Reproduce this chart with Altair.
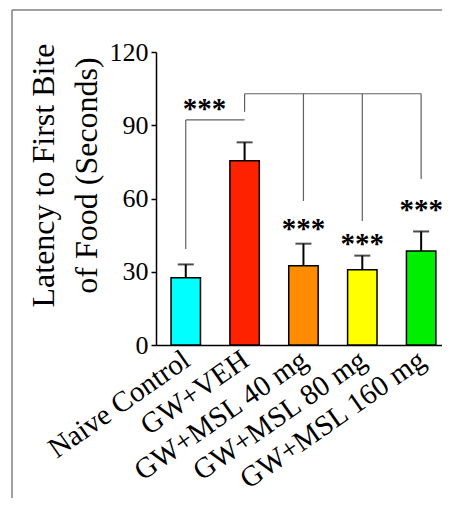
import altair as alt
import pandas as pd

groups = ["Naive Control", "GW+VEH", "GW+MSL 40 mg", "GW+MSL 80 mg", "GW+MSL 160 mg"]
means = [27.5, 75.5, 32.5, 30.8, 38.5]
sems = [5.5, 7.5, 9.0, 5.8, 8.0]
colors = ["#00FFFF", "#FF2200", "#FF8C00", "#FFFF00", "#00EE00"]

# significance brackets
h_from = ["Naive Control", "GW+VEH"]
h_to = ["GW+VEH", "GW+MSL 160 mg"]
h_y = [92.2, 102.9]
leg_group = ["Naive Control", "GW+VEH", "GW+MSL 40 mg", "GW+MSL 80 mg", "GW+MSL 160 mg"]
leg_low = [39.3, 95.5, 59.0, 50.8, 68.0]
leg_high = [92.2, 102.9, 102.9, 102.9, 102.9]
star_group = ["GW+MSL 40 mg", "GW+MSL 80 mg", "GW+MSL 160 mg"]
star_y = [49.2, 43.0, 57.0]
pair_star_group = ["Naive Control"]
pair_star_y = [98.4]

FONT = "Liberation Serif"

bars_df = pd.DataFrame({"group": groups, "mean": means, "sem": sems, "color": colors})
bars_df["top"] = bars_df["mean"] + bars_df["sem"]
h_df = pd.DataFrame({"g1": h_from, "g2": h_to, "y": h_y})
leg_df = pd.DataFrame({"group": leg_group, "lo": leg_low, "hi": leg_high})
star_df = pd.DataFrame({"group": star_group, "y": star_y, "t": ["***"] * len(star_group)})
pstar_df = pd.DataFrame({"group": pair_star_group, "y": pair_star_y, "t": ["***"]})

xscale = alt.Scale(domain=groups, paddingInner=0.5, paddingOuter=0.18, align=0.71)
yscale = alt.Scale(domain=[0, 120])

x = alt.X("group:N", scale=xscale, sort=groups, title=None,
          axis=alt.Axis(labelAngle=-35, labelFont=FONT, labelFontSize=29, labelColor="black",
                        ticks=False, domainColor="black", domainWidth=1.5, labelPadding=0,
                        labelOffset=-7, labelLimit=400))
y = alt.Y("mean:Q", scale=yscale,
          title=["Latency to First Bite", "of Food (Seconds)"],
          axis=alt.Axis(values=[0, 30, 60, 90, 120], grid=False, tickSize=5, tickColor="black",
                        tickWidth=1.5, domainColor="black", domainWidth=1.5,
                        labelFont=FONT, labelFontSize=26, labelColor="black", labelPadding=3,
                        titleFont=FONT, titleFontSize=32, titleFontWeight="normal",
                        titleColor="black", titleLineHeight=43, titleX=-103, titleY=123,
                        titleAngle=-90, titleAlign="center", titleBaseline="alphabetic"))

bars = alt.Chart(bars_df).mark_bar(stroke="black", strokeWidth=1.5).encode(
    x=x, y=y, color=alt.Color("color:N", scale=None))

err = alt.Chart(bars_df).mark_rule(color="black", strokeWidth=2).encode(
    x=alt.X("group:N", scale=xscale, sort=groups),
    y=alt.Y("mean:Q", scale=yscale), y2="top:Q")

cap = alt.Chart(bars_df).mark_tick(color="black", thickness=2, size=16, orient="horizontal").encode(
    x=alt.X("group:N", scale=xscale, sort=groups),
    y=alt.Y("top:Q", scale=yscale))

hlines = alt.Chart(h_df).mark_rule(color="#606060", strokeWidth=1.2).encode(
    x=alt.X("g1:N", scale=xscale, sort=groups), x2="g2:N",
    y=alt.Y("y:Q", scale=yscale))

legs = alt.Chart(leg_df).mark_rule(color="#606060", strokeWidth=1.2).encode(
    x=alt.X("group:N", scale=xscale, sort=groups),
    y=alt.Y("lo:Q", scale=yscale), y2="hi:Q")

stars = alt.Chart(star_df).mark_text(font=FONT, fontSize=29, fontWeight="bold", baseline="middle",
                                     align="center", dy=4, color="black").encode(
    x=alt.X("group:N", scale=xscale, sort=groups),
    y=alt.Y("y:Q", scale=yscale), text="t:N")

pstars = alt.Chart(pstar_df).mark_text(font=FONT, fontSize=29, fontWeight="bold", baseline="middle",
                                       align="left", dx=-3, dy=4, color="black").encode(
    x=alt.X("group:N", scale=xscale, sort=groups),
    y=alt.Y("y:Q", scale=yscale), text="t:N")

frame_df = pd.DataFrame({"a": [0]})
frame_top = alt.Chart(frame_df).mark_rule(color="#808080", strokeWidth=1.5).encode(
    x=alt.value(-144), x2=alt.value(400), y=alt.value(-42))
frame_left = alt.Chart(frame_df).mark_rule(color="#808080", strokeWidth=1.5).encode(
    x=alt.value(-144), y=alt.value(-42), y2=alt.value(500))

chart = alt.layer(bars, err, cap, hlines, legs, stars, pstars, frame_top, frame_left).properties(
    width=286, height=293,
    padding={"left": 148, "top": 44, "right": 0, "bottom": 153},
    autosize=alt.AutoSizeParams(type="none"),
    background="white",
).configure_view(stroke=None)

chart.save("out.html", embed_options={"renderer": "svg", "actions": False})
